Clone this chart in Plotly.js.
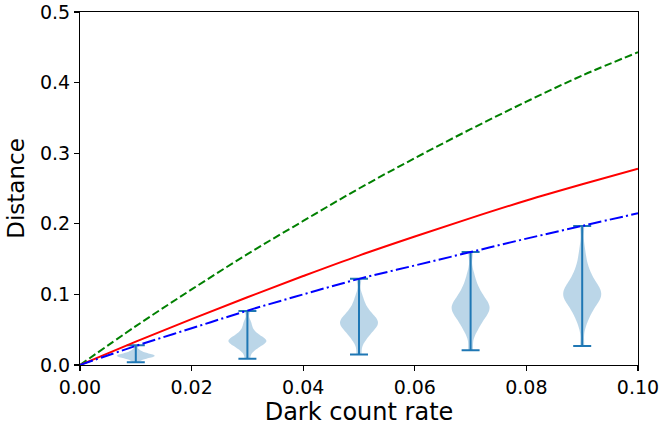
<!DOCTYPE html>
<html>
<head>
<meta charset="utf-8">
<script src="https://cdn.plot.ly/plotly-3.0.1.min.js"></script>
<style>html,body{margin:0;padding:0;background:#fff;}#chart{width:661px;height:427px;}</style>
</head>
<body>
<div id="chart"></div>
<script>
// Dark count rate grid for curves
const rate = [0, 0.01, 0.02, 0.03, 0.04, 0.05, 0.06, 0.07, 0.08, 0.09, 0.10];
// Curve values
const greenDashed = [0, 0.055, 0.107, 0.157, 0.204, 0.250, 0.293, 0.334, 0.373, 0.410, 0.443];
const redSolid    = [0, 0.033, 0.065, 0.096, 0.126, 0.155, 0.182, 0.208, 0.233, 0.256, 0.278];
const blueDashDot = [0, 0.027, 0.052, 0.077, 0.100, 0.122, 0.141, 0.160, 0.179, 0.197, 0.215];

// Violin positions and estimated samples
const violinPos = [0.01, 0.03, 0.05, 0.07, 0.09];
const samples001 = [0.004, 0.008, 0.010, 0.011, 0.012, 0.0125, 0.013, 0.0135, 0.014, 0.015, 0.016, 0.018, 0.021, 0.028];
const samples003 = [0.009, 0.019, 0.023, 0.026, 0.028, 0.030, 0.032, 0.033, 0.034, 0.035, 0.036, 0.038, 0.040, 0.042, 0.045, 0.049, 0.055, 0.062, 0.0765];
const samples005 = [0.015, 0.033, 0.039, 0.044, 0.048, 0.051, 0.054, 0.056, 0.058, 0.060, 0.062, 0.064, 0.066, 0.069, 0.072, 0.076, 0.081, 0.088, 0.098, 0.122];
const samples007 = [0.021, 0.045, 0.053, 0.059, 0.064, 0.068, 0.072, 0.075, 0.078, 0.080, 0.082, 0.084, 0.087, 0.090, 0.094, 0.098, 0.103, 0.109, 0.117, 0.130, 0.160];
const samples009 = [0.027, 0.058, 0.068, 0.075, 0.081, 0.086, 0.090, 0.093, 0.096, 0.098, 0.100, 0.102, 0.104, 0.107, 0.110, 0.114, 0.118, 0.123, 0.129, 0.137, 0.148, 0.165, 0.197];
const allSamples = [samples001, samples003, samples005, samples007, samples009];
const bandwidths = [0.0025, 0.005, 0.008, 0.010, 0.012];

const traces = [];
allSamples.forEach((s, i) => {
  traces.push({
    type: 'violin', x0: violinPos[i], y: s, width: 0.0068, scalemode: 'width',
    spanmode: 'hard', bandwidth: bandwidths[i], side: 'both',
    fillcolor: 'rgba(31,119,180,0.3)', line: {width: 0, color: 'rgba(31,119,180,0)'},
    points: false, box: {visible: false}, meanline: {visible: false},
    hoverinfo: 'skip', showlegend: false
  });
});
const mins = allSamples.map(s => Math.min(...s));
const maxs = allSamples.map(s => Math.max(...s));
traces.push({
  type: 'scatter', mode: 'markers', x: violinPos, y: mins,
  marker: {size: 1, color: 'rgba(0,0,0,0)'},
  error_y: {type: 'data', symmetric: false, array: maxs.map((m, i) => m - mins[i]),
            arrayminus: mins.map(() => 0), color: '#1f77b4', thickness: 2, width: 9},
  hoverinfo: 'skip', showlegend: false
});
traces.push({type: 'scatter', mode: 'lines', x: rate, y: greenDashed,
  line: {color: '#008000', width: 2, dash: '7.7px,3.3px', shape: 'spline'}, showlegend: false});
traces.push({type: 'scatter', mode: 'lines', x: rate, y: redSolid,
  line: {color: '#ff0000', width: 2, shape: 'spline'}, showlegend: false});
traces.push({type: 'scatter', mode: 'lines', x: rate, y: blueDashDot,
  line: {color: '#0000ff', width: 2, dash: '13.3px,3.3px,2.1px,3.3px', shape: 'spline'}, showlegend: false});

const axisCommon = {
  showline: true, mirror: true, linecolor: '#000', linewidth: 1.1,
  ticks: 'outside', ticklen: 5, tickwidth: 1.1, tickcolor: '#000',
  showgrid: false, zeroline: false, automargin: false,
  tickfont: {family: 'DejaVu Sans', size: 19, color: '#000'}
};
const layout = {
  width: 661, height: 427,
  margin: {l: 80, r: 23, t: 12, b: 62},
  paper_bgcolor: '#fff', plot_bgcolor: '#fff',
  showlegend: false, violinmode: 'overlay',
  font: {family: 'DejaVu Sans', color: '#000'},
  xaxis: Object.assign({}, axisCommon, {
    type: 'linear', range: [0, 0.1], dtick: 0.02, tick0: 0, tickformat: '.2f',
    title: {text: 'Dark count rate', font: {family: 'DejaVu Sans', size: 24, color: '#000'}, standoff: 6}
  }),
  yaxis: Object.assign({}, axisCommon, {
    type: 'linear', range: [0, 0.5], dtick: 0.1, tick0: 0, tickformat: '.1f',
    title: {text: 'Distance', font: {family: 'DejaVu Sans', size: 23, color: '#000'}, standoff: 8}
  })
};
Plotly.newPlot('chart', traces, layout, {displayModeBar: false, staticPlot: true});
</script>
</body>
</html>
